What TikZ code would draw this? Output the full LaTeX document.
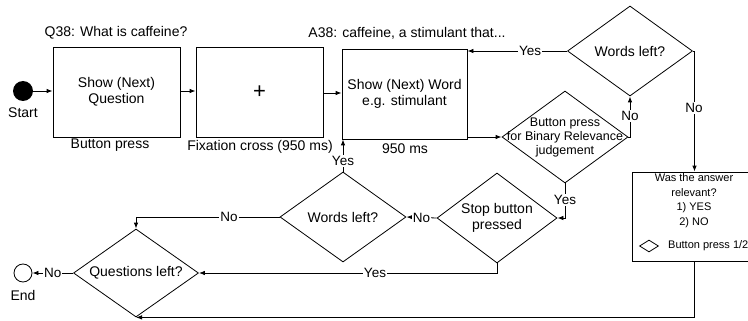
\documentclass[tikz,border=0pt]{standalone}
\usepackage{fontspec}
\setmainfont{Liberation Sans}
\usetikzlibrary{shapes.geometric,arrows.meta}
\begin{document}
\begin{tikzpicture}[x=1pt,y=-1pt,
  every node/.style={font=\fontsize{14}{16.5}\selectfont},
  box/.style={draw,line width=0.8pt,minimum width=127pt,minimum height=90pt,inner sep=0pt,align=center},
  dia/.style={draw,diamond,line width=0.8pt,inner sep=0pt,minimum width=125pt,minimum height=90pt},
  inner/.style={align=center,inner sep=0pt},
  arr/.style={line width=0.8pt,-{Latex[length=6pt,width=4.5pt]}},
  ln/.style={line width=0.8pt},
  lbl/.style={fill=white,inner sep=1pt,font=\fontsize{13.5}{15}\selectfont},
  txt/.style={inner sep=0pt}
]
\useasboundingbox (0,0) rectangle (748,321);
\clip (0,0) rectangle (748,321);

% start / end
\node[circle,fill=black,minimum size=20pt,inner sep=0pt] (start) at (23,91) {};
\node[txt] (starttxt) at (23,113) {Start};
\node[circle,draw,line width=0.8pt,minimum size=18pt,inner sep=0pt] (end) at (23,273) {};
\node[txt] (endtxt) at (23,295) {End};

% boxes
\node[box] (box1) at (116.5,92) {Show (Next)\\Question};
\node[box] (box2) at (259.5,92.5) {\fontsize{22}{22}\selectfont +};
\node[box,minimum width=125pt] (box3) at (404.5,94) {Show (Next) Word\\e.g. stimulant};

\node[txt] (q38) at (116,33) {Q38: What is caffeine?};
\node[txt] (bp) at (110,145) {Button press};
\node[txt] (fix) at (260,147) {Fixation cross (950 ms)};
\node[txt] (a38) at (407,33) {A38: caffeine, a stimulant that...};
\node[txt] (ms) at (405,149) {950 ms};

% diamonds
\node[dia,label={[inner]center:Words left?}] (wl1) at (630,51) {};
\node[dia,minimum width=126pt,minimum height=92pt,
  label={[inner,font=\fontsize{12.5}{14}\selectfont]center:Button press\\for Binary Relevance\\judgement}] (btn) at (565,137) {};
\node[dia,minimum width=120pt,label={[inner]center:Stop button\\pressed}] (stop) at (497,218) {};
\node[dia,minimum width=126pt,label={[inner]center:Words left?}] (wl2) at (343,217) {};
\node[dia,minimum height=88pt,label={[inner]center:Questions left?}] (ql) at (136,273) {};

% answer box
\node[draw,line width=0.8pt,minimum width=125pt,minimum height=89pt,inner sep=0pt] (ans) at (694.5,216.5) {};
\node[txt,align=center,font=\fontsize{11}{14.5}\selectfont,anchor=north] (anstxt) at (694,173.5) {Was the answer\\relevant?\\1) YES\\2) NO};
\node[draw,diamond,line width=0.8pt,minimum width=19pt,minimum height=12pt,inner sep=0pt] (smalld) at (649,246) {};
\node[txt,anchor=west,font=\fontsize{11}{13}\selectfont] (bp12) at (668,246) {Button press 1/2};

% connectors
\draw[arr] (start) -- (box1.west |- start);
\draw[arr] (box1.east |- start) -- (box2.west |- start);
\draw[arr] (box2.east |- 0,93) -- (box3.west |- 0,93);
\draw[arr] (box3.east |- btn.west) -- (btn.west);
\draw[arr] (btn.east) -- (btn.east -| wl1.south) -- (wl1.south);
\node[lbl] at (630,116) {No};
\draw[arr] (wl1.west) -- (wl1.west -| box3.east) node[lbl,pos=0.37] {Yes};
\draw[arr] (wl1.east) -| (ans.north);
\node[lbl] at (694,108) {No};
\draw[arr] (btn.south) |- (stop.east);
\node[lbl] at (565,200) {Yes};
\draw[arr] (stop.west) -- (wl2.east) node[lbl,midway] {No};
\draw[arr] (wl2.north) -- (wl2.north |- box3.south) node[lbl,pos=0.33] {Yes};
\draw[arr] (wl2.west) -| (ql.north);
\node[lbl] at (229,217) {No};
\draw[arr] (stop.south) |- (ql.east);
\node[lbl] at (375,273) {Yes};
\draw[arr] (ql.west) -- (end) node[lbl,midway] {No};
\draw[arr] (ans.south) |- (ql.south);
\end{tikzpicture}
\end{document}
